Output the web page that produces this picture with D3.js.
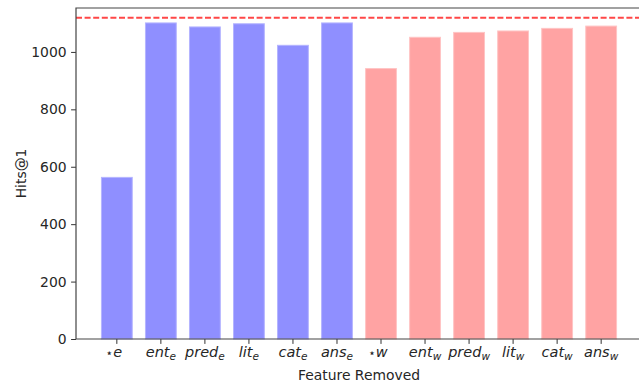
<!DOCTYPE html>
<html>
<head>
<meta charset="utf-8">
<script src="https://cdn.jsdelivr.net/npm/d3@7"></script>
<style>
  body { margin: 0; background: #fff; }
  svg { font-family: "DejaVu Sans", sans-serif; }
</style>
</head>
<body>
<script>
//categories: base name and subscript
var names = ["⋆", "ent", "pred", "lit", "cat", "ans", "⋆", "ent", "pred", "lit", "cat", "ans"];
var subs = ["e", "e", "e", "e", "e", "e", "w", "w", "w", "w", "w", "w"];
var hits = [563, 1101, 1087, 1098, 1023, 1101, 942, 1051, 1068, 1073, 1082, 1090];
var baseline = 1119;
var yTicks = [0, 200, 400, 600, 800, 1000];

//frame
var width = 639,
    height = 383,
    padL = 76, padR = 642, padT = 8, padB = 339;

var svg = d3.select("body").append("svg")
    .attr("width", width)
    .attr("height", height);

var keys = names.map(function(d, i){ return i; });

var x = d3.scaleBand()
    .domain(keys)
    .range([padL, padR])
    .paddingInner(0.3)
    .paddingOuter(0.5775);

var y = d3.scaleLinear()
    .domain([0, 1153])
    .range([padB, padT]);

//bars
svg.selectAll(".bar")
    .data(hits)
    .enter()
    .append("rect")
    .attr("class", "bar")
    .attr("x", function(d, i){ return x(i); })
    .attr("width", x.bandwidth())
    .attr("y", function(d){ return y(d); })
    .attr("height", function(d){ return y(0) - y(d); })
    .attr("fill", function(d, i){ return subs[i] == "e" ? "#8f8fff" : "#ffa3a3"; })
    .attr("stroke", function(d, i){ return subs[i] == "e" ? "#b4b4ff" : "#ffc4c4"; })
    .attr("stroke-width", 1);

//reference line
svg.append("line")
    .attr("x1", padL).attr("x2", padR)
    .attr("y1", y(baseline)).attr("y2", y(baseline))
    .attr("stroke", "#ff4747")
    .attr("stroke-width", 1.8)
    .attr("stroke-dasharray", "6,2.6");

//y axis
var yAxis = svg.append("g")
    .attr("transform", "translate(" + padL + ",0)")
    .call(d3.axisLeft(y).tickValues(yTicks).tickFormat(d3.format("d"))
        .tickSize(4.9).tickPadding(4.5));
yAxis.select(".domain").remove();
yAxis.selectAll("text").attr("font-size", 13.9).attr("fill", "#262626")
    .attr("font-family", "DejaVu Sans");
yAxis.selectAll("line").attr("stroke", "#333");

//x axis
var xAxis = svg.append("g")
    .attr("transform", "translate(0," + padB + ")")
    .call(d3.axisBottom(x).tickSize(4.9).tickFormat(""));
xAxis.select(".domain").remove();
xAxis.selectAll("line").attr("stroke", "#333");

//math-style tick labels
var labels = svg.selectAll(".xlab")
    .data(keys)
    .enter()
    .append("text")
    .attr("class", "xlab")
    .attr("x", function(d){ return x(d) + x.bandwidth() / 2; })
    .attr("y", 357)
    .attr("text-anchor", "middle")
    .attr("font-size", 14.5)
    .attr("font-style", "italic")
    .attr("fill", "#262626");

labels.each(function(d){
    var t = d3.select(this);
    if (names[d] == "⋆") {
        t.append("tspan").attr("font-style", "normal").attr("font-size", 12).attr("dx", -3).text("⋆");
        t.append("tspan").text(subs[d]);
    } else {
        t.append("tspan").text(names[d]);
        t.append("tspan").attr("font-size", 10.5).attr("dy", 2.5).text(subs[d]);
    }
});

//spines
svg.append("path")
    .attr("d", "M" + padR + "," + padT + "H" + padL + "V" + padB + "H" + padR)
    .attr("fill", "none")
    .attr("stroke", "#444")
    .attr("stroke-width", 1.2);

//axis titles
svg.append("text")
    .attr("x", (padL + padR) / 2)
    .attr("y", 380)
    .attr("text-anchor", "middle")
    .attr("font-size", 13.9)
    .attr("fill", "#262626")
    .text("Feature Removed");

svg.append("text")
    .attr("transform", "translate(26," + (padT + padB) / 2 + ") rotate(-90)")
    .attr("text-anchor", "middle")
    .attr("font-size", 13.9)
    .attr("fill", "#262626")
    .text("Hits@1");
</script>
</body>
</html>
